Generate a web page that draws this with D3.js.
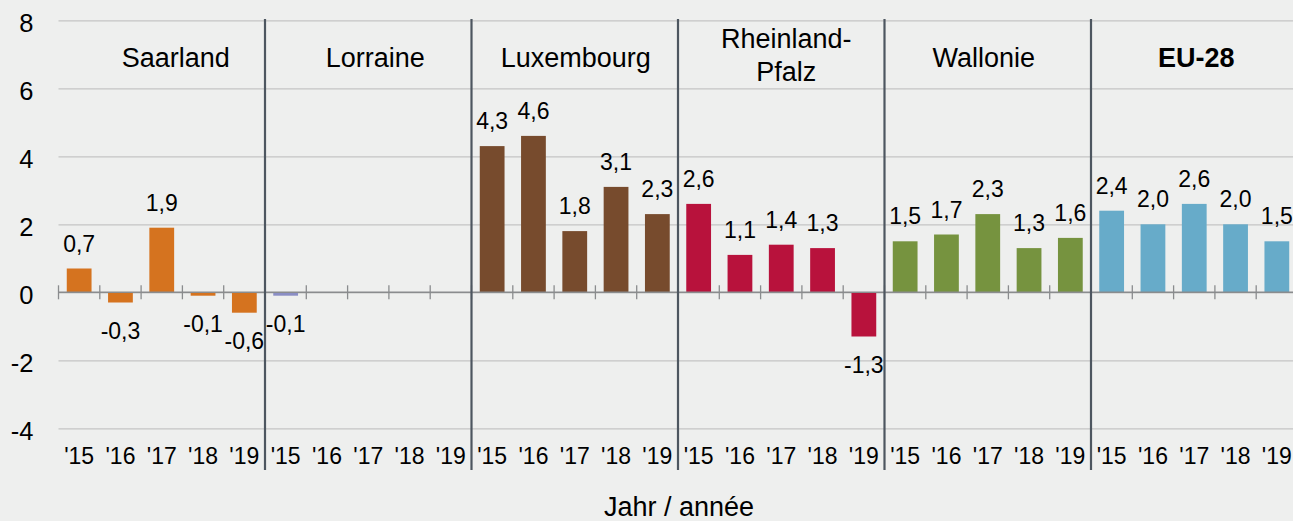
<!DOCTYPE html>
<html lang="de">
<head>
<meta charset="UTF-8">
<title>Jahr / année</title>
<script src="https://cdn.jsdelivr.net/npm/d3@7/dist/d3.min.js"></script>
<style>
  html, body { margin: 0; padding: 0; background: #eeefee; }
  svg { display: block; font-family: Arial, "Liberation Sans", sans-serif; }
</style>
</head>
<body>
<svg id="mainsvg" width="1293" height="521"></svg>
<script>
    // data
    const regions = ['Saarland', 'Lorraine', 'Luxembourg', 'Rheinland-Pfalz', 'Wallonie', 'EU-28'];
    const regionLines = [['Saarland'], ['Lorraine'], ['Luxembourg'], ['Rheinland-', 'Pfalz'], ['Wallonie'], ['EU-28']];
    const years = ["'15", "'16", "'17", "'18", "'19"];
    const saarland = [0.7, -0.3, 1.9, -0.1, -0.6];
    const lorraine = [-0.1, null, null, null, null];
    const luxembourg = [4.3, 4.6, 1.8, 3.1, 2.3];
    const rheinlandPfalz = [2.6, 1.1, 1.4, 1.3, -1.3];
    const wallonie = [1.5, 1.7, 2.3, 1.3, 1.6];
    const eu28 = [2.4, 2.0, 2.6, 2.0, 1.5];
    const series = [saarland, lorraine, luxembourg, rheinlandPfalz, wallonie, eu28];
    const yTicks = [-4, -2, 0, 2, 4, 6, 8];

    const colors = ['#d5731f', '#8a8ec4', '#774b2d', '#b8123c', '#76933f', '#67abc9'];
    // small nudges for the region titles (they sit off-centre in the original)
    const titleShift = [14, 7, 1, 5, -4, 2];

    const svg = d3.select('#mainsvg');
    const plotLeft = 58.5, plotRight = 1297.5;
    const plotTop = 20.3, plotBottom = 428.3;

    const y = d3.scaleLinear().domain([-4, 8]).range([plotBottom, plotTop]);

    const xGroup = d3.scaleBand().domain(regions).range([plotLeft, plotRight]).padding(0);
    const xYear = d3.scaleBand().domain(years)
        .range([0, xGroup.bandwidth()])
        .paddingInner(0.4).paddingOuter(0.2);

    // flat scale for the year labels
    const flat = [];
    regions.forEach((r, i) => years.forEach((yr, j) => {
        flat.push({key: r + '|' + yr, region: r, year: yr, gi: i, value: series[i][j]});
    }));
    const xFlat = d3.scaleBand().domain(flat.map(d => d.key))
        .range([plotLeft, plotRight]).paddingInner(0.4).paddingOuter(0.2);

    // grid + y labels
    const yAxis = svg.append('g')
        .attr('transform', `translate(${plotLeft},0)`)
        .call(d3.axisLeft(y).tickValues(yTicks).tickFormat(d => String(d))
            .tickSizeInner(-(plotRight - plotLeft)).tickSizeOuter(0).tickPadding(25));
    yAxis.select('.domain').remove();
    yAxis.selectAll('line').attr('stroke', '#c4c5c4').attr('stroke-width', 1.2);
    yAxis.selectAll('text').attr('font-size', 25.5).attr('fill', '#000')
        .attr('font-family', 'Arial, "Liberation Sans", sans-serif').attr('dy', '0.42em');

    // bars
    svg.append('g').selectAll('rect')
        .data(flat.filter(d => d.value !== null))
        .join('rect')
        .attr('x', d => xGroup(d.region) + xYear(d.year))
        .attr('y', d => y(Math.max(0, d.value)))
        .attr('width', xYear.bandwidth())
        .attr('height', d => Math.abs(y(d.value) - y(0)))
        .attr('fill', d => colors[d.gi]);

    // zero axis with ticks between years
    const zeroG = svg.append('g');
    zeroG.append('line')
        .attr('x1', plotLeft).attr('x2', plotRight)
        .attr('y1', y(0)).attr('y2', y(0))
        .attr('stroke', '#8a8c8e').attr('stroke-width', 1.6);
    const bounds = d3.range(0, regions.length * years.length + 1).map(k => plotLeft + k * xFlat.step());
    zeroG.selectAll('.tk').data(bounds).join('line')
        .attr('class', 'tk')
        .attr('x1', d => d).attr('x2', d => d)
        .attr('y1', y(0) - 7).attr('y2', y(0) + 7)
        .attr('stroke', '#8a8c8e').attr('stroke-width', 1.3);

    // value labels
    const fmt = v => d3.format('.1f')(v).replace('.', ',').replace('−', '-');
    svg.append('g').selectAll('text')
        .data(flat.filter(d => d.value !== null))
        .join('text')
        .attr('x', d => xGroup(d.region) + xYear(d.year) + xYear.bandwidth() / 2)
        .attr('y', d => d.value >= 0 ? y(d.value) - 17 : y(d.value) + 36)
        .attr('text-anchor', 'middle')
        .attr('font-size', 23)
        .attr('fill', '#000')
        .text(d => fmt(d.value));

    // year labels at the bottom
    const xAxis = svg.append('g')
        .attr('transform', `translate(0,${plotBottom})`)
        .call(d3.axisBottom(xFlat).tickSize(0).tickPadding(19.5).tickFormat(k => k.split('|')[1]));
    xAxis.select('.domain').remove();
    xAxis.selectAll('text').attr('font-size', 23).attr('fill', '#000')
        .attr('font-family', 'Arial, "Liberation Sans", sans-serif');

    // group separators
    svg.append('g').selectAll('line')
        .data(regions.slice(1))
        .join('line')
        .attr('x1', d => xGroup(d)).attr('x2', d => xGroup(d))
        .attr('y1', 19).attr('y2', 470)
        .attr('stroke', '#4d5660').attr('stroke-width', 2.2);

    // region titles
    const titles = svg.append('g').selectAll('text')
        .data(regions)
        .join('text')
        .attr('x', (d, i) => xGroup(d) + xGroup.bandwidth() / 2 + titleShift[i])
        .attr('y', (d, i) => regionLines[i].length > 1 ? 47.7 : 66.7)
        .attr('text-anchor', 'middle')
        .attr('font-size', 27)
        .attr('font-weight', d => d === 'EU-28' ? 'bold' : 'normal')
        .attr('fill', '#000');
    titles.each(function (d, i) {
        d3.select(this).selectAll('tspan')
            .data(regionLines[i])
            .join('tspan')
            .attr('x', xGroup(d) + xGroup.bandwidth() / 2 + titleShift[i])
            .attr('dy', (t, j) => j === 0 ? 0 : 33.3)
            .text(t => t);
    });

    // axis title
    svg.append('text')
        .attr('x', 679)
        .attr('y', 516)
        .attr('text-anchor', 'middle')
        .attr('font-size', 27)
        .attr('fill', '#000')
        .text('Jahr / année');
</script>
</body>
</html>
